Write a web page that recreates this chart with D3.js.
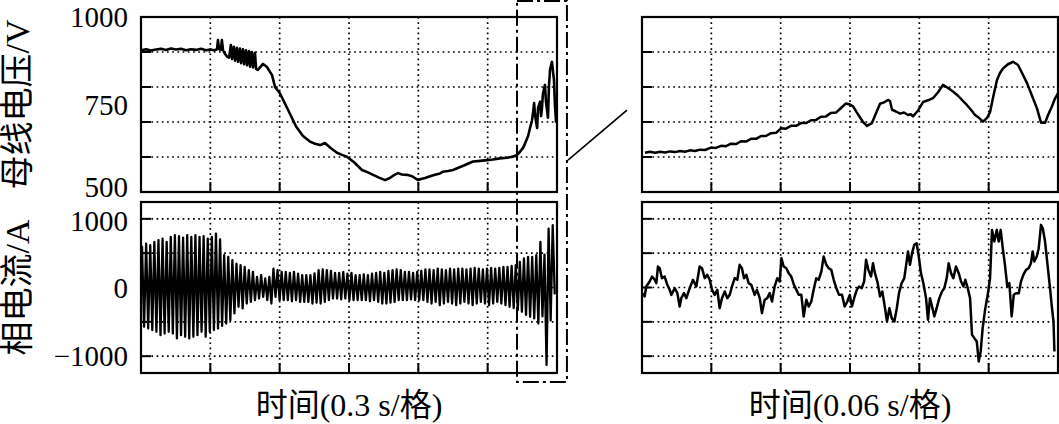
<!DOCTYPE html>
<html><head><meta charset="utf-8">
<script src="https://cdn.jsdelivr.net/npm/d3@7"></script>
<style>
html,body{margin:0;padding:0;background:#fff;}
svg{display:block;}
</style></head><body>
<svg id="chart" width="1059" height="424"></svg>
<script>
// ---------------- DATA ----------------
// Left top: bus voltage (V) vs time (s), 0.3 s/div
const voltLT = [0.000,0.022,0.043,0.065,0.087,0.108,0.130,0.151,0.173,0.195,0.216,0.238,0.260,0.281,0.299,0.316,0.329,0.333,0.338,0.346,0.350,0.355,0.363,0.372,0.381,0.389,0.394,0.402,0.407,0.415,0.420,0.428,0.433,0.441,0.446,0.454,0.459,0.467,0.472,0.480,0.485,0.493,0.498,0.506,0.528,0.545,0.567,0.580,0.601,0.636,0.671,0.701,0.731,0.753,0.775,0.796,0.822,0.848,0.870,0.891,0.922,0.956,0.982,1.004,1.030,1.056,1.077,1.095,1.112,1.129,1.151,1.173,1.199,1.212,1.229,1.251,1.272,1.294,1.307,1.328,1.350,1.376,1.402,1.419,1.437,1.467,1.497,1.523,1.553,1.584,1.610,1.627,1.640,1.653,1.662,1.675,1.683,1.692,1.696,1.701,1.705,1.714,1.718,1.727,1.731,1.735,1.739,1.748,1.752,1.761,1.765,1.770,1.778,1.787,1.791,1.796];
const voltLV = [905,908,904,907,909,906,910,907,909,905,908,906,909,905,907,905,908,934,908,906,934,905,895,887,884,920,880,915,875,912,872,910,868,908,865,905,862,903,858,900,856,898,852,849,866,857,834,800,782,735,687,660,644,638,634,640,625,612,606,601,585,563,556,549,541,534,540,548,554,550,549,545,534,537,540,545,549,553,558,560,563,570,577,582,587,589,591,593,596,598,601,606,615,626,639,660,682,705,725,754,720,683,740,758,717,740,780,806,760,712,800,850,872,820,750,698];

// Left bottom: phase current (A), positive / negative peak of each cycle
const curHi = [592,640,615,665,690,713,665,737,761,747,727,761,737,761,737,747,713,737,785,700,470,446,398,349,325,300,252,228,155,180,131,155,276,252,
  228,228,213,228,200,180,180,180,205,252,262,252,240,213,213,228,200,213,180,180,190,180,200,213,228,213,240,252,262,252,228,228,213,228,
  240,262,262,252,276,262,252,276,262,276,276,262,276,286,276,262,276,286,276,286,300,
  300,313,325,373,422,446,446,470,664,480,858,907];
const curLo = [-572,-597,-620,-645,-694,-670,-645,-670,-742,-694,-718,-742,-718,-694,-645,-718,-645,-620,-597,-560,-524,-475,-378,-281,-305,-233,-209,-184,-160,-136,-184,-233,-136,-184,
  -184,-184,-200,-184,-209,-209,-209,-233,-220,-233,-209,-184,-160,-160,-172,-160,-184,-184,-184,-184,-184,-200,-184,-209,-233,-233,-220,-209,-184,-184,-184,-172,-184,-184,
  -184,-209,-233,-209,-257,-233,-209,-233,-257,-233,-209,-233,-257,-233,-209,-233,-257,-233,-209,-233,-257,
  -281,-300,-330,-354,-400,-427,-451,-524,-420,-1130,-480,-100];
const curPeriod = 0.01777; // s per cycle (sampling clock of the peak list)

// Right top: zoomed bus voltage, 0.06 s/div
const voltRT = [0.0026,0.0069,0.0113,0.0156,0.0199,0.0242,0.0286,0.0329,0.0372,0.0415,0.0459,0.0502,0.0545,0.0597,0.0640,0.0684,0.0727,0.0770,0.0813,0.0857,0.0900,0.0943,0.0987,0.1030,0.1073,0.1116,0.1160,0.1203,0.1246,0.1289,0.1333,0.1376,0.1419,0.1463,0.1506,0.1549,0.1592,0.1636,0.1679,0.1722,0.1765,0.1800,0.1826,0.1869,0.1913,0.1947,0.1990,0.2025,0.2060,0.2094,0.2129,0.2146,0.2164,0.2198,0.2233,0.2267,0.2302,0.2328,0.2345,0.2389,0.2432,0.2475,0.2518,0.2562,0.2605,0.2648,0.2691,0.2735,0.2778,0.2813,0.2847,0.2882,0.2916,0.2951,0.2986,0.3012,0.3038,0.3072,0.3098,0.3124,0.3167,0.3211,0.3254,0.3289,0.3332,0.3375,0.3418,0.3453,0.3488,0.3514,0.3548,0.3574,0.3600];
const voltRV = [612,615,612,615,613,616,614,617,615,619,617,621,620,627,626,632,631,638,637,645,644,652,652,660,660,668,669,682,681,689,689,697,697,705,706,715,716,726,727,740,753,750,745,722,700,689,697,725,752,756,763,760,735,730,724,727,720,722,716,733,757,762,768,785,806,797,787,775,760,748,735,720,712,701,712,728,770,820,840,853,865,872,863,840,811,775,739,698,698,720,745,767,782];

// Right bottom: zoomed phase current, 0.06 s/div
const curRT = [0.0009,0.0023,0.0037,0.0066,0.0087,0.0110,0.0124,0.0138,0.0153,0.0173,0.0196,0.0219,0.0240,0.0254,0.0283,0.0306,0.0326,0.0340,0.0363,0.0384,0.0413,0.0441,0.0470,0.0499,0.0519,0.0543,0.0565,0.0586,0.0606,0.0629,0.0652,0.0672,0.0692,0.0716,0.0738,0.0759,0.0779,0.0802,0.0825,0.0845,0.0865,0.0883,0.0903,0.0923,0.0946,0.0975,0.0995,0.1019,0.1038,0.1062,0.1084,0.1105,0.1125,0.1148,0.1171,0.1192,0.1206,0.1226,0.1249,0.1269,0.1292,0.1315,0.1336,0.1356,0.1379,0.1399,0.1422,0.1443,0.1465,0.1488,0.1508,0.1529,0.1552,0.1572,0.1595,0.1616,0.1638,0.1659,0.1682,0.1705,0.1731,0.1754,0.1777,0.1798,
  0.1817,0.1840,0.1859,0.1879,0.1902,0.1922,0.1939,0.1959,0.1982,0.1999,0.2016,0.2040,0.2060,0.2080,0.2103,0.2120,0.2141,0.2161,0.2184,0.2205,0.2224,0.2247,0.2270,0.2302,0.2319,0.2337,0.2356,0.2377,0.2395,0.2414,0.2435,0.2458,0.2475,0.2492,0.2510,0.2530,0.2550,0.2573,0.2596,0.2616,0.2637,0.2654,0.2674,0.2694,0.2717,0.2741,0.2761,0.2781,0.2798,0.2819,0.2839,0.2856,0.2876,0.2897,0.2914,0.2931,0.2948,0.2971,0.2992,0.3012,0.3029,0.3049,0.3070,0.3087,0.3104,0.3122,0.3141,0.3161,0.3179,0.3199,0.3217,0.3237,0.3260,0.3280,0.3300,0.3323,0.3346,0.3366,0.3381,0.3395,0.3416,0.3433,0.3453,0.3468,0.3488,0.3511,0.3531,0.3545,0.3561,0.3569];
const curRV = [-82,-131,15,87,160,112,63,305,281,136,160,39,-34,-107,-10,-82,-276,-155,-82,-155,-10,112,15,305,281,136,184,112,-34,-107,-34,-301,-155,-58,-155,-107,15,136,112,330,281,136,184,63,39,-107,-34,-155,-373,-179,-155,-82,-204,15,136,87,427,305,281,209,160,39,-34,-107,-107,-422,-179,-276,-204,-10,136,112,233,451,330,281,257,112,-10,-107,-107,-276,-204,-107,
  -276,-131,-34,15,-10,87,403,257,160,354,209,63,-131,-58,-301,-495,-301,-446,-495,-301,-82,63,136,524,330,500,621,645,451,209,63,-155,-470,-155,-276,-422,-301,-155,-58,-10,136,354,209,136,305,209,87,15,112,-10,-155,-689,-737,-786,-1077,-931,-592,-301,-107,136,839,669,839,669,839,572,330,15,63,-422,-107,-82,-82,87,184,257,281,354,524,378,451,572,912,863,669,305,-10,-252,-495,-931];

// Axis text
const voltTickLabels = [500, 750, 1000];
const voltGrid = [600, 700, 800, 900];
const curTickLabels = [-1000, 0, 1000];
const curGrid = [-1000, -500, 0, 500, 1000];
const yTitleTop = "母线电压/V";
const yTitleBot = "相电流/A";
const xTitleLeft = "时间(0.3 s/格)";
const xTitleRight = "时间(0.06 s/格)";
const zoomWindow = [1.627, 1.843]; // s, dash-dot box on left panels

// ---------------- LAYOUT ----------------
const svg = d3.select("#chart");
const PL = {x: 141, w: 416}, PR = {x: 642, w: 416};
const PT = {y: 17, h: 175}, PB = {y: 202, h: 171};
const serif = "'Liberation Serif','Times New Roman','Noto Sans CJK SC',serif";

const xL = d3.scaleLinear().domain([0, 1.8]).range([PL.x, PL.x + PL.w]);
const xR = d3.scaleLinear().domain([0, 0.36]).range([PR.x, PR.x + PR.w]);
const yV = d3.scaleLinear().domain([500, 1000]).range([PT.y + PT.h, PT.y]);
const yI = d3.scaleLinear().domain([-1245, 1245]).range([PB.y + PB.h, PB.y]);

let clipId = 0;
function panel(x, yScale, grid) {
  const [x0, x1] = x.range();
  const [y1, y0] = yScale.range();
  const g = svg.append("g");
  const xt = d3.range(1, 6).map(i => x.domain()[0] + (x.domain()[1] - x.domain()[0]) * i / 6);
  g.selectAll(".vg").data(xt).join("line")
    .attr("x1", d => x(d)).attr("x2", d => x(d)).attr("y1", y0).attr("y2", y1)
    .attr("stroke", "#000").attr("stroke-width", 1.7).attr("stroke-dasharray", "1.7,3.5");
  g.selectAll(".hg").data(grid).join("line")
    .attr("x1", x0).attr("x2", x1).attr("y1", d => yScale(d)).attr("y2", d => yScale(d))
    .attr("stroke", "#000").attr("stroke-width", 1.7).attr("stroke-dasharray", "1.7,3.5");
  g.selectAll(".vt").data(xt).join("line")
    .attr("x1", d => x(d)).attr("x2", d => x(d)).attr("y1", y1).attr("y2", y1 - 10)
    .attr("stroke", "#000").attr("stroke-width", 2);
  g.selectAll(".ht").data(grid).join("line")
    .attr("x1", x0).attr("x2", x0 + 10).attr("y1", d => yScale(d)).attr("y2", d => yScale(d))
    .attr("stroke", "#000").attr("stroke-width", 2);
  const id = "clip" + (clipId++);
  svg.append("clipPath").attr("id", id).append("rect")
    .attr("x", x0).attr("y", y0).attr("width", x1 - x0).attr("height", y1 - y0);
  return {g, id, border: () => svg.append("rect").attr("x", x0).attr("y", y0)
    .attr("width", x1 - x0).attr("height", y1 - y0)
    .attr("fill", "none").attr("stroke", "#000").attr("stroke-width", 2.2)};
}

function drawLine(p, pts, x, y, w) {
  svg.append("path").datum(pts)
    .attr("clip-path", `url(#${p.id})`)
    .attr("fill", "none").attr("stroke", "#000").attr("stroke-width", w)
    .attr("stroke-linejoin", "round")
    .attr("d", d3.line().x(d => x(d[0])).y(d => y(d[1])));
}

// Top-left
const pTL = panel(xL, yV, voltGrid);
drawLine(pTL, voltLT.map((t, i) => [t, voltLV[i]]), xL, yV, 2.6);
pTL.border();

// Bottom-left
const pBL = panel(xL, yI, curGrid);
const curPts = [[0, 0]];
curHi.forEach((v, i) => {
  curPts.push([(i + 0.25) * curPeriod, v]);
  curPts.push([(i + 0.75) * curPeriod, curLo[i]]);
});
drawLine(pBL, curPts, xL, yI, 2.3);
pBL.border();

// Top-right
const pTR = panel(xR, yV, voltGrid);
drawLine(pTR, voltRT.map((t, i) => [t, voltRV[i]]), xR, yV, 2.5);
pTR.border();

// Bottom-right
const pBR = panel(xR, yI, curGrid);
drawLine(pBR, curRT.map((t, i) => [t, curRV[i]]), xR, yI, 2.5);
pBR.border();

// Y tick labels
svg.selectAll(".vl").data(voltTickLabels).join("text")
  .attr("x", PL.x - 13).attr("y", d => yV(d) + (d === 500 ? 5 : 10))
  .attr("text-anchor", "end").attr("font-family", serif).attr("font-size", 29)
  .text(d => d);
svg.selectAll(".cl").data(curTickLabels).join("text")
  .attr("x", PL.x - 13).attr("y", d => yI(d) + (d === 1000 ? 12 : 10))
  .attr("text-anchor", "end").attr("font-family", serif).attr("font-size", 29)
  .text(d => d < 0 ? "\u2212" + Math.abs(d) : d);

// Y titles
function yTitle(txt, cy) {
  svg.append("text").attr("transform", `translate(29,${cy}) rotate(-90)`)
    .attr("text-anchor", "middle").attr("font-family", serif).attr("font-size", 34)
    .text(txt);
}
yTitle(yTitleTop, PT.y + PT.h / 2);
yTitle(yTitleBot, PB.y + PB.h / 2);

// X titles
svg.append("text").attr("x", PL.x + PL.w / 2).attr("y", 416)
  .attr("text-anchor", "middle").attr("font-family", serif).attr("font-size", 32).text(xTitleLeft);
svg.append("text").attr("x", PR.x + PR.w / 2).attr("y", 416)
  .attr("text-anchor", "middle").attr("font-family", serif).attr("font-size", 32).text(xTitleRight);

// Zoom box (dash-dot) and connector
const bx0 = xL(zoomWindow[0]), bx1 = xL(zoomWindow[1]);
const by0 = 1, by1 = PB.y + PB.h + 9;
svg.append("rect").attr("x", bx0).attr("y", by0).attr("width", bx1 - bx0).attr("height", by1 - by0)
  .attr("fill", "none").attr("stroke", "#000").attr("stroke-width", 2)
  .attr("stroke-dasharray", "16,4,3,4");
svg.append("line").attr("x1", bx1 + 1).attr("y1", yV(591)).attr("x2", PR.x - 15).attr("y2", yV(734))
  .attr("stroke", "#000").attr("stroke-width", 1.6);
</script>
</body></html>
